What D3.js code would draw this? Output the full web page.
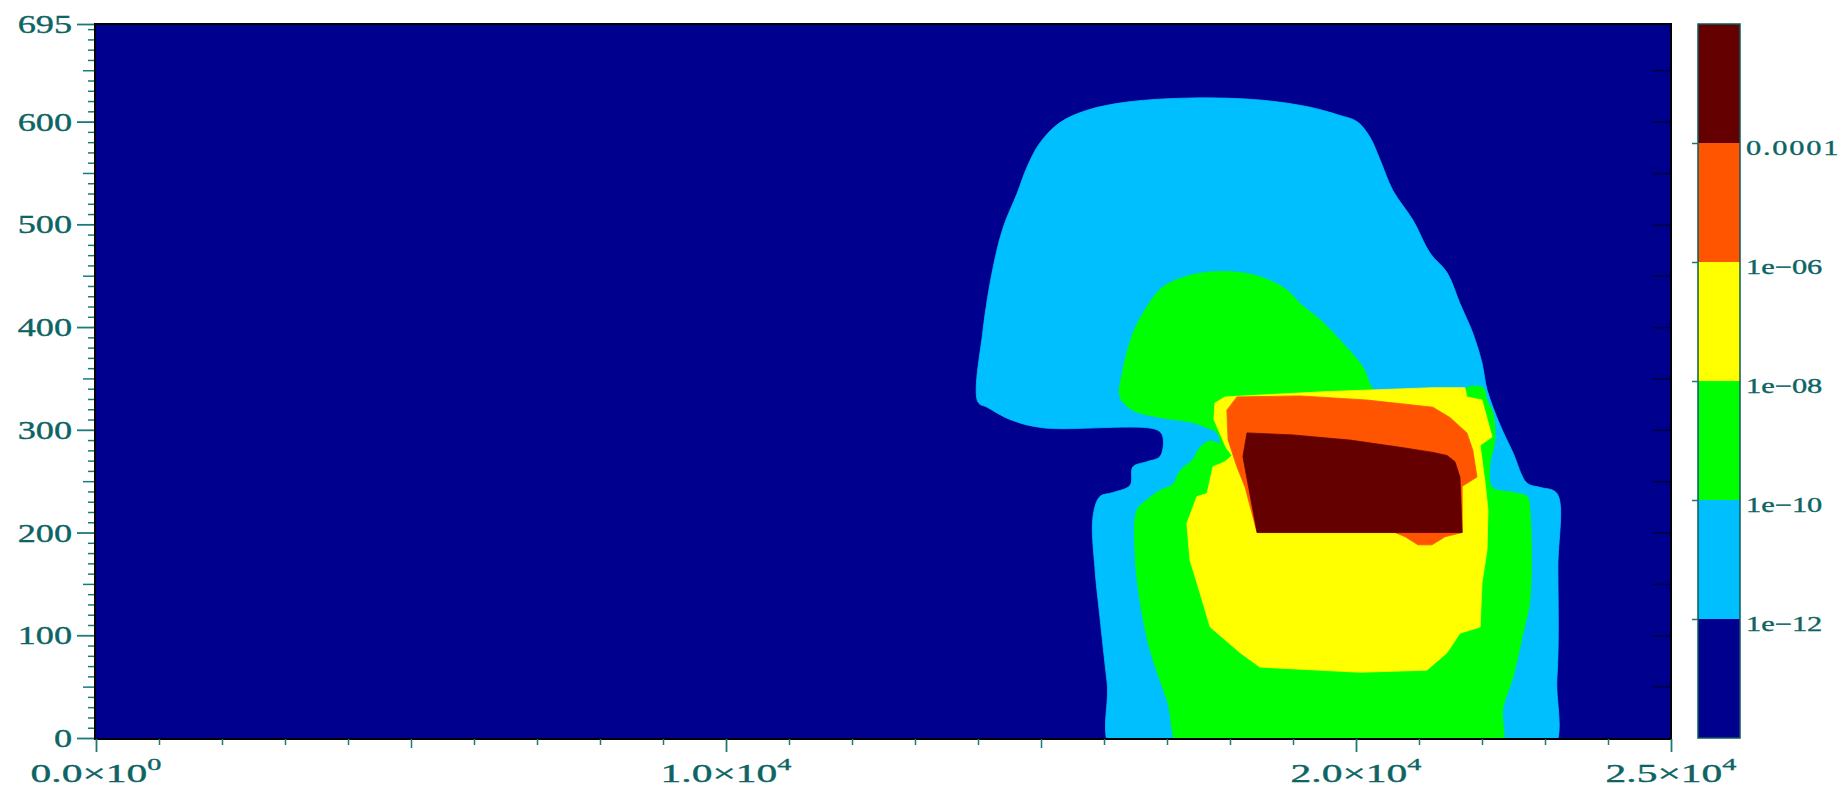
<!DOCTYPE html>
<html>
<head>
<meta charset="utf-8">
<script src="https://cdn.jsdelivr.net/npm/d3@7"></script>
<style>
  html, body { margin: 0; padding: 0; background: #ffffff; }
  svg { display: block; }
</style>
</head>
<body>
<svg id="chart" width="1843" height="790"></svg>
<script>
// ---------------- DATA ----------------
// contour levels (log10 of the field) and their colour-bar labels
const levelExponents = [-12, -10, -8, -6, -4];
const levelLabels = ["1e\u221212", "1e\u221210", "1e\u221208", "1e\u221206", "0.0001"];
// band colours, lowest band first
const bandColors = ["#00008f", "#00bfff", "#00ff00", "#ffff00", "#ff5500", "#640000"];

// axis ticks
const xTickValues = [0, 10000, 20000, 25000];
const xTickMantissa = ["0.0", "1.0", "2.0", "2.5"];
const xTickPower = ["0", "4", "4", "4"];
const yTickValues = [0, 100, 200, 300, 400, 500, 600, 695];

// region where field >= 1e-12  (x, y)
const regionGE1e12 = [
  [14000,327],[14080,397],[14240,458],[14400,497],[14620,530],[14780,556],[14980,579],
  [15300,599],[15730,611],[16365,619],[17410,623],[18475,621],[19270,614],[19745,606],
  [20015,600],[20220,585],[20380,563],[20585,533],[20905,504],[21175,472],[21445,453],
  [21650,423],[21855,394],[22000,365],[22080,339],[22285,305],[22490,278],[22715,248],
  [22920,244],[23190,238],[23205,166],[23190,59],[23030,0],[16205,0],[16050,54],
  [15935,118],[15855,166],[15825,215],[15935,235],[16145,239],[16415,246],[16460,264],
  [16685,269],[16890,274],[16935,293],[16840,300],[15030,302],[14510,310],[14145,322]
];
// region where field >= 1e-10
const regionGE1e10 = [
  [16255,332],[16300,358],[16460,394],[16685,420],[16935,439],[17410,451],[17950,454],
  [18475,449],[18905,436],[19110,423],[19430,407],[19795,384],[20110,361],[20335,336],
  [21730,336],[21760,341],[22015,341],[22080,329],[22175,316],[22205,290],[22125,266],
  [22160,244],[22490,239],[22715,235],[22760,222],[22760,134],[22650,102],[22490,59],
  [22335,30],[22240,0],[17315,0],[17000,37],[16730,86],[16570,134],[16490,183],
  [16525,222],[16685,232],[16890,241],[17095,247],[17205,260],[17410,271],[17525,283],
  [17685,289],[17840,287],[17780,298],[17635,302],[17410,307],[16890,312],[16460,319]
];
// region where field >= 1e-8
const regionGE1e08 = [
  [17760,326],[17920,332],[19475,337],[21220,341],[21730,341],[21760,332],[22000,329],
  [22160,293],[21970,285],[22050,248],[22095,222],[22080,183],[22000,151],[21970,108],
  [21650,102],[21445,83],[21125,66],[20065,64],[18475,69],[18160,83],[17685,108],
  [17525,141],[17365,173],[17315,209],[17475,235],[17635,238],[17730,264],[17920,269],
  [18030,275],[17935,283],[17745,310]
];
// region where field >= 1e-6
const regionGE1e06 = [
  [18110,332],[19110,333],[20175,329],[21220,322],[21490,312],[21760,297],[21855,280],
  [21920,254],[21685,245],[21685,200],[21415,196],[21205,188],[20985,188],[20780,196],
  [20620,200],[18430,200],[18240,244],[18110,264],[17970,290],[17950,319]
];
// region where field >= 1e-4
const regionGE1e04 = [
  [18270,297],[19000,295],[19540,292],[19905,290],[20700,283],[21220,278],[21445,275],
  [21570,269],[21650,254],[21685,200],[18430,200],[18205,274]
];

// ---------------- DRAWING ----------------
const plot = { left: 96, right: 1671, top: 24, bottom: 738 };
const textColor = "#0d6464";
const tickColor = "#1a7a7a";
const fontFam = "'Liberation Serif', 'DejaVu Serif', serif";
const stretch = 1.45;
const stretchX = 1.66;

const svg = d3.select("#chart");

const x = d3.scaleLinear().domain([0, 25000]).range([plot.left, plot.right]);
const y = d3.scaleLinear().domain([0, 695]).range([plot.bottom, plot.top]);

svg.append("defs").append("clipPath").attr("id", "plotClip")
  .append("rect")
  .attr("x", x(0)).attr("y", y(695))
  .attr("width", x(25000) - x(0)).attr("height", y(0) - y(695));

const gPlot = svg.append("g").attr("clip-path", "url(#plotClip)");

gPlot.append("rect")
  .attr("x", x(0)).attr("y", y(695))
  .attr("width", x(25000) - x(0)).attr("height", y(0) - y(695))
  .attr("fill", bandColors[0]);

// points lying on the lower plot edge are pushed just past it (clipped away),
// so that the smoothed outline keeps square corners on that edge
const edgeY = v => (v === 0 ? -20 : v);
const smooth = d3.line().x(d => x(d[0])).y(d => y(edgeY(d[1])))
  .curve(d3.curveCatmullRomClosed.alpha(0.5));
const sharp = d3.line().x(d => x(d[0])).y(d => y(d[1])).curve(d3.curveLinearClosed);
const regions = [regionGE1e12, regionGE1e10, regionGE1e08, regionGE1e06, regionGE1e04];
regions.forEach((r, i) => {
  gPlot.append("path")
    .attr("d", (i < 2 ? smooth : sharp)(r))
    .attr("fill", bandColors[i + 1])
    .attr("stroke", bandColors[i + 1])
    .attr("stroke-width", 0.8)
    .attr("stroke-linejoin", "round");
});

// inward ticks on the right edge
const rightTicks = svg.append("g")
  .attr("transform", `translate(${x(25000)},0)`)
  .call(d3.axisLeft(y).tickValues(d3.range(50, 695, 50)).tickSize(18).tickFormat(""));
rightTicks.select(".domain").remove();
rightTicks.selectAll("line").attr("stroke", "#00003c").attr("stroke-width", 1.5);

// frame
svg.append("rect")
  .attr("x", x(0) - 1).attr("y", y(695))
  .attr("width", x(25000) - x(0) + 1).attr("height", y(0) - y(695) + 1)
  .attr("fill", "none").attr("stroke", "#000000").attr("stroke-width", 2);

function styleTicks(g, width) {
  g.select(".domain").remove();
  g.selectAll("line").attr("stroke", tickColor).attr("stroke-width", width);
}
function styleText(sel, size) {
  sel.attr("fill", textColor)
    .attr("stroke", textColor).attr("stroke-width", 0.35)
    .style("font-family", fontFam)
    .style("font-size", size);
}

// ---- Y axis ----
const yMinor = svg.append("g").attr("transform", `translate(${x(0) - 2},0)`)
  .call(d3.axisLeft(y).tickValues(d3.range(0, 695, 10).filter(v => v % 50 !== 0)).tickSize(6).tickFormat(""));
styleTicks(yMinor, 1.5);
const yMid = svg.append("g").attr("transform", `translate(${x(0) - 2},0)`)
  .call(d3.axisLeft(y).tickValues(d3.range(50, 695, 100)).tickSize(11).tickFormat(""));
styleTicks(yMid, 1.5);
const yMajor = svg.append("g").attr("transform", `translate(${x(0) - 2},0)`)
  .call(d3.axisLeft(y).tickValues(yTickValues).tickSize(17).tickPadding(4));
styleTicks(yMajor, 1.8);
yMajor.selectAll("text")
  .attr("x", null)
  .attr("transform", `translate(-22,0) scale(${stretch},1)`)
  .attr("dy", "0.34em");
styleText(yMajor.selectAll("text"), "25px");

// ---- X axis ----
const xMinor = svg.append("g").attr("transform", `translate(0,${y(0) + 1})`)
  .call(d3.axisBottom(x).tickValues(d3.range(1000, 25000, 1000).filter(v => v % 5000 !== 0)).tickSize(6).tickFormat(""));
styleTicks(xMinor, 1.5);
const xMid = svg.append("g").attr("transform", `translate(0,${y(0) + 1})`)
  .call(d3.axisBottom(x).tickValues([5000, 15000]).tickSize(9).tickFormat(""));
styleTicks(xMid, 1.5);
const xMajor = svg.append("g").attr("transform", `translate(0,${y(0) + 1})`)
  .call(d3.axisBottom(x).tickValues(xTickValues).tickSize(13).tickFormat(""));
styleTicks(xMajor, 1.8);

const xLab = svg.append("g");
xTickValues.forEach((v, i) => {
  const t = xLab.append("text")
    .attr("transform", `translate(${x(v)},782) scale(${stretchX},1)`)
    .attr("text-anchor", "middle");
  styleText(t, "25px");
  t.append("tspan").text(xTickMantissa[i] + "\u00d710");
  t.append("tspan").attr("dy", -12).style("font-size", "17px").text(xTickPower[i]);
});

// ---- Colour bar ----
const cb = { left: 1698, right: 1740 };
const cy = d3.scaleLinear().domain([-14, -2]).range([plot.bottom, plot.top]);
bandColors.forEach((c, i) => {
  const lo = -14 + 2 * i, hi = lo + 2;
  svg.append("rect")
    .attr("x", cb.left).attr("y", cy(hi))
    .attr("width", cb.right - cb.left).attr("height", cy(lo) - cy(hi))
    .attr("fill", c);
});
svg.append("rect")
  .attr("x", cb.left).attr("y", cy(-2))
  .attr("width", cb.right - cb.left).attr("height", cy(-14) - cy(-2))
  .attr("fill", "none").attr("stroke", "#0e5a5a").attr("stroke-width", 1.5);

const cbTicks = svg.append("g").attr("transform", `translate(${cb.left},0)`)
  .call(d3.axisLeft(cy).tickValues(levelExponents).tickSize(6).tickFormat(""));
styleTicks(cbTicks, 1.5);

const cbLabels = svg.append("g").attr("transform", `translate(${cb.right},0)`)
  .call(d3.axisRight(cy).tickValues(levelExponents).tickSize(0).tickPadding(6)
    .tickFormat((d, i) => levelLabels[i]));
cbLabels.select(".domain").remove();
cbLabels.selectAll("text")
  .attr("x", null)
  .attr("transform", `translate(6,0) scale(${stretch},1)`)
  .attr("dy", "0.56em")
  .style("letter-spacing", (d, i) => levelLabels[i].length > 5 ? "1.2px" : null);
styleText(cbLabels.selectAll("text"), "21px");
</script>
</body>
</html>
